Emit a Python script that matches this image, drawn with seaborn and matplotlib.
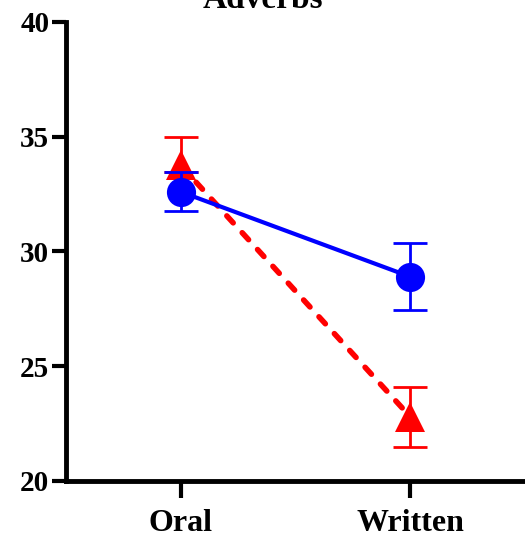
import pandas as pd
import seaborn as sns
import matplotlib.pyplot as plt

# data
conditions = ["Oral", "Written"]
blue_means = [32.6, 28.9]
blue_err = [0.85, 1.45]
red_means = [33.75, 22.8]
red_err_low = [0.3, 1.3]
red_err_high = [1.25, 1.3]

sns.set_style("ticks")
plt.rcParams['font.family'] = ['Liberation Serif', 'DejaVu Serif']
plt.rcParams['font.weight'] = 'bold'

df = pd.DataFrame({
    "x": [0, 1, 0, 1],
    "score": red_means + blue_means,
    "group": ["red", "red", "blue", "blue"],
})

fig = plt.figure(figsize=(5.25, 5.43), dpi=100)
ax = fig.add_axes([0.1257, 0.1142, 0.8743, 0.8453])

# red series (dashed, triangles) drawn first, blue on top
red = df[df["group"] == "red"]
blue = df[df["group"] == "blue"]
ax.errorbar(red["x"], red["score"], yerr=[red_err_low, red_err_high], fmt="none",
            ecolor="red", elinewidth=2, capsize=12, capthick=2, zorder=2)
sns.lineplot(data=red, x="x", y="score", color="red", lw=4, ax=ax,
             marker="^", markersize=21, markeredgewidth=0, zorder=3)
red_line = ax.lines[-1]
red_line.set_dashes([1.7, 2.4])
red_line.set_dash_capstyle("round")
ax.errorbar(blue["x"], blue["score"], yerr=blue_err, fmt="none", ecolor="blue",
            elinewidth=2, capsize=12, capthick=2, zorder=4)
sns.lineplot(data=blue, x="x", y="score", color="blue", lw=3, ax=ax,
             marker="o", markersize=21, markeredgewidth=0, zorder=5)

ax.set_xlim(-0.5, 1.5)
ax.set_ylim(20, 40)
ax.set_yticks([20, 25, 30, 35, 40])
ax.set_xticks([0, 1])
ax.set_xticklabels(conditions)
ax.set_xlabel("")
ax.set_ylabel("")
for lab in ax.get_yticklabels():
    lab.set_fontsize(21)
    lab.set_fontweight("bold")
for lab in ax.get_xticklabels():
    lab.set_fontsize(23)
    lab.set_fontweight("bold")
ax.tick_params(axis="y", length=10, width=3, pad=2, colors="black")
ax.tick_params(axis="x", length=12, width=3, pad=8, colors="black")
for s in ["left", "bottom"]:
    ax.spines[s].set_linewidth(3.5)
    ax.spines[s].set_color("black")
sns.despine(ax=ax)

fig.text(0.5, 1.0, "Adverbs", ha="center", va="center", fontsize=24,
         fontweight="bold", color="black")

fig.savefig("out.png", dpi=100)
